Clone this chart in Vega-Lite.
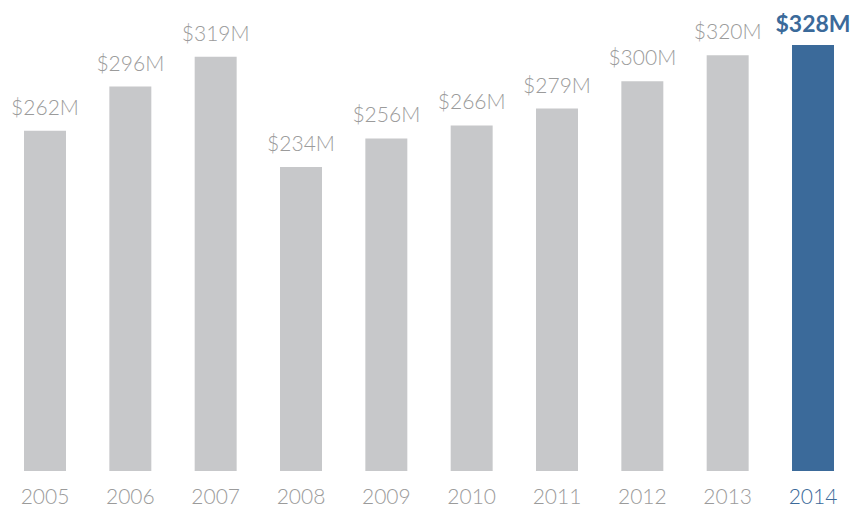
{
  "$schema": "https://vega.github.io/schema/vega-lite/v6.json",
  "width": 848,
  "height": 471,
  "autosize": {"type": "none"},
  "padding": {"left": 5, "right": 0, "top": 0, "bottom": 37},
  "background": "white",
  "config": {"view": {"stroke": null}, "font": "Lato"},
  "data": {"values": [
    {"year": "2005", "value": 262},
    {"year": "2006", "value": 296},
    {"year": "2007", "value": 319},
    {"year": "2008", "value": 234},
    {"year": "2009", "value": 256},
    {"year": "2010", "value": 266},
    {"year": "2011", "value": 279},
    {"year": "2012", "value": 300},
    {"year": "2013", "value": 320},
    {"year": "2014", "value": 328}
  ]},
  "transform": [{"calculate": "'$' + datum.value + 'M'", "as": "label"}],
  "encoding": {
    "x": {
      "field": "year", "type": "ordinal",
      "scale": {"paddingInner": 0.508, "paddingOuter": 0.2227},
      "axis": {
        "title": null, "domain": false, "ticks": false, "labelAngle": 0,
        "labelFontSize": 21, "labelPadding": 15, "labelFont": "Lato", "labelFontWeight": 300,
        "labelColor": {"condition": {"test": "datum.value == '2014'", "value": "#3b6a9a"}, "value": "#9b9b9b"}
      }
    },
    "y": {
      "field": "value", "type": "quantitative",
      "scale": {"domain": [0, 362.6], "nice": false, "zero": true},
      "axis": null
    }
  },
  "layer": [
    {
      "mark": {"type": "bar"},
      "encoding": {
        "color": {
          "condition": {"test": "datum.year == '2014'", "value": "#3b6a9a"},
          "value": "#c7c8ca"
        }
      }
    },
    {
      "transform": [{"filter": "datum.year != '2014'"}],
      "mark": {"type": "text", "baseline": "alphabetic", "dy": -16, "fontSize": 21, "fontWeight": 300, "color": "#9b9b9b"},
      "encoding": {"text": {"field": "label"}}
    },
    {
      "transform": [{"filter": "datum.year == '2014'"}],
      "mark": {"type": "text", "baseline": "alphabetic", "dy": -13, "fontSize": 23, "fontWeight": "bold", "color": "#3b6a9a"},
      "encoding": {"text": {"field": "label"}}
    }
  ]
}
